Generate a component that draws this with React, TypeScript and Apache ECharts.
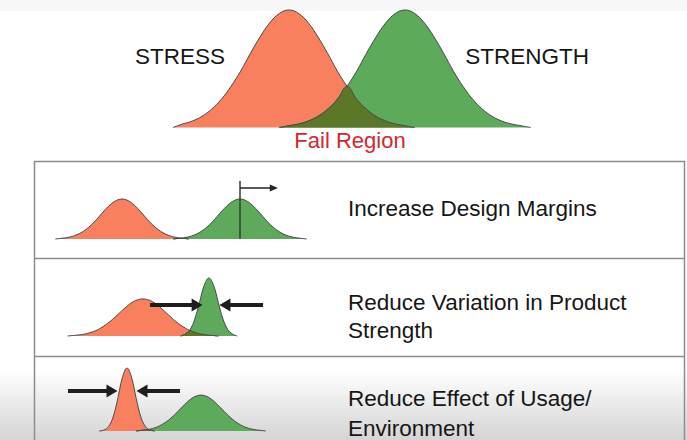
import React, { useEffect, useRef } from "react";
import * as echarts from "echarts";

// ---- Data (relative density heights) ----
// Top panel (STRESS vs STRENGTH)
const topStress = [null, 0, 3, 5.5, 9.5, 15.6, 24, 35, 48, 63, 77, 89, 97, 100, 97, 89, 77, 63, 48, 35, 24, 15.6, 9.5, 5.5, 3, 1.5, 0, null, null, null, null, null, null, null, null, null, null, null, null];
const topStrength = [null, null, null, null, null, null, null, null, null, null, null, null, 0, 1.5, 3, 5.5, 9.5, 15.6, 24, 35, 48, 63, 77, 89, 97, 100, 97, 89, 77, 63, 48, 35, 24, 15.6, 9.5, 5.5, 3, 1.5, 0];

// Row 1: Increase Design Margins
const row1Stress = [0, 1.5, 3, 5.5, 9.5, 15.6, 24, 35, 48, 63, 77, 89, 97, 100, 97, 89, 77, 63, 48, 35, 24, 15.6, 9.5, 5.5, 3, 1.5, 0, null, null, null, null, null, null, null, null, null, null, null, null, null, null, null, null, null, null, null, null, null, null, null];
const row1Strength = [null, null, null, null, null, null, null, null, null, null, null, null, null, null, null, null, null, null, null, null, null, null, null, 0, 1.5, 3, 5.5, 9.5, 15.6, 24, 35, 48, 63, 77, 89, 97, 100, 97, 89, 77, 63, 48, 35, 24, 15.6, 9.5, 5.5, 3, 1.5, 0];

// Row 2: Reduce Variation in Product Strength
const row2Stress = [0, 0.8, 1.5, 2.5, 4, 6.3, 9.3, 13.5, 18.8, 25, 32, 39.6, 47, 53.8, 59.3, 62.7, 64, 62.7, 59.3, 53.8, 47, 39.6, 32, 25, 18.8, 13.5, 9.3, 6.3, 4, 2.5, 1.5, 0.8, 0, null, null, null, null];
const row2Strength = [null, null, null, null, null, null, null, null, null, null, null, null, null, null, null, null, null, null, null, null, null, null, null, null, 0, 3.3, 11.1, 29.1, 57.8, 87.2, 100, 87.2, 57.8, 29.1, 11.1, 3.3, 0];

// Row 3: Reduce Effect of Usage/Environment
const row3Stress = [0, 1.5, 6.9, 22.2, 51.3, 84.6, 100, 84.6, 51.3, 22.2, 6.9, 1.5, 0, null, null, null, null, null, null, null, null, null, null, null, null, null, null, null, null, null, null, null, null, null, null, null, null];
const row3Strength = [null, null, null, null, null, null, null, null, 0, 0.9, 1.7, 3, 5, 8, 12.1, 17.4, 23.8, 31.1, 38.6, 45.8, 51.8, 55.6, 57, 55.6, 51.8, 45.8, 38.6, 31.1, 23.8, 17.4, 12.1, 8, 5, 3, 1.7, 0.9, 0];

// Annotation lines (data coordinates of each panel)
const row1MarginLine = [[36, 0], [36, 145]];
const row1Arrow = [[36, 127.5], [42.6, 127.5]];
const row2Arrows = [[[17.5, 53.4], [27.5, 53.4]], [[41.5, 53.4], [33.4, 53.4]]];
const row3Arrows = [[[-6.76, 63.5], [2.76, 63.5]], [[17.46, 63.5], [9.24, 63.5]]];

// Texts
const topLabels = ["STRESS", "STRENGTH", "Fail Region"];
const rowTexts = [["Increase Design Margins"], ["Reduce Variation in Product", "Strength"], ["Reduce Effect of Usage/", "Environment"]];

// ---- Styles / layout ----
const RED = "#F9805F";
const GREEN = "#5CAA5A";
const OVERLAP = "#5A7828";
const OUTLINE = "#4a4a4a";
const FONT = '"Liberation Sans", Arial, Helvetica, sans-serif';

const panels = [
  { left: 163.3, top: 10, width: 38 * 9.67, height: 117.5, xMin: 0, xMax: 38, yMax: 100, stress: topStress, strength: topStrength },
  { left: 55.3, top: 179, width: 49 * 5.13, height: 60, xMin: 0, xMax: 49, yMax: 150, stress: row1Stress, strength: row1Strength },
  { left: 67.6, top: 278, width: 44 * 4.71, height: 58, xMin: 0, xMax: 44, yMax: 100, stress: row2Stress, strength: row2Strength },
  { left: 62.25, top: 368, width: 44 * 4.625, height: 63, xMin: -8, xMax: 36, yMax: 100, stress: row3Stress, strength: row3Strength },
];

function toPairs(arr: (number | null)[]) {
  const out: number[][] = [];
  arr.forEach((v, i) => {
    if (v != null) out.push([i, v]);
  });
  return out;
}

function overlapOf(a: (number | null)[], b: (number | null)[]) {
  return a.map((v, i) => (v == null || b[i] == null ? null : Math.min(v, b[i] as number)));
}

function thickArrow(seg: number[][]) {
  return [
    { coord: seg[0], symbol: "none" },
    { coord: seg[1], symbol: "triangle", symbolSize: [13, 11] },
  ];
}

export default function App() {
  const ref = useRef<HTMLDivElement>(null);

  useEffect(() => {
    if (!ref.current) return;
    const chart = echarts.init(ref.current, undefined, { renderer: "svg" });

    const grids: any[] = [];
    const xAxes: any[] = [];
    const yAxes: any[] = [];
    const series: any[] = [];

    panels.forEach((p, k) => {
      grids.push({ left: p.left, top: p.top, width: p.width, height: p.height, containLabel: false });
      xAxes.push({ type: "value", gridIndex: k, min: p.xMin, max: p.xMax, show: false, splitLine: { show: false } });
      yAxes.push({ type: "value", gridIndex: k, min: 0, max: p.yMax, show: false, splitLine: { show: false } });
      const common = {
        type: "line",
        xAxisIndex: k,
        yAxisIndex: k,
        smooth: 0.4,
        symbol: "none",
        silent: true,
        clip: false,
        lineStyle: { color: OUTLINE, width: 1 },
      };
      series.push({ ...common, name: "stress" + k, z: 2, data: toPairs(p.stress), areaStyle: { color: RED, opacity: 1 } });
      series.push({ ...common, name: "strength" + k, z: 3, data: toPairs(p.strength), areaStyle: { color: GREEN, opacity: 1 } });
      const ov: any = {
        ...common,
        name: "overlap" + k,
        z: 4,
        data: toPairs(overlapOf(p.stress, p.strength)),
        areaStyle: { color: OVERLAP, opacity: 1 },
      };
      const markData: any[] = [];
      if (k === 1) {
        markData.push([
          { coord: row1MarginLine[0], symbol: "none", lineStyle: { width: 1.5, color: "#3a3a3a" } },
          { coord: row1MarginLine[1], symbol: "none" },
        ]);
        markData.push([
          { coord: row1Arrow[0], symbol: "none", lineStyle: { width: 1.5, color: "#222" } },
          { coord: row1Arrow[1], symbol: "triangle", symbolSize: [7, 8] },
        ]);
      }
      if (k === 2) row2Arrows.forEach((s) => markData.push(thickArrow(s)));
      if (k === 3) row3Arrows.forEach((s) => markData.push(thickArrow(s)));
      if (markData.length) {
        ov.markLine = {
          silent: true,
          animation: false,
          symbol: ["none", "triangle"],
          label: { show: false },
          emphasis: { disabled: true },
          lineStyle: { color: "#1e1e1e", width: 4, type: "solid" },
          itemStyle: { color: "#1e1e1e" },
          data: markData,
        };
      }
      series.push(ov);
    });

    const textStyle = (size: number, fill: string) => ({ font: `normal ${size}px ${FONT}`, fill });

    const graphics: any[] = [
      { type: "rect", z: 0, shape: { x: 0, y: 0, width: 687, height: 11 }, style: { fill: "#f7f7f7" }, silent: true },
      {
        type: "rect",
        z: 0,
        shape: { x: 0, y: 370, width: 687, height: 70 },
        style: {
          fill: new echarts.graphic.LinearGradient(0, 0, 0, 1, [
            { offset: 0, color: "rgba(205,205,205,0)" },
            { offset: 1, color: "rgba(205,205,205,0.85)" },
          ]),
        },
        silent: true,
      },
      { type: "rect", z: 1, shape: { x: 34.5, y: 161.5, width: 650, height: 320 }, style: { fill: "none", stroke: "#8d8d8d", lineWidth: 1.5 }, silent: true },
      { type: "line", z: 1, shape: { x1: 34.5, y1: 258.5, x2: 684.5, y2: 258.5 }, style: { stroke: "#8d8d8d", lineWidth: 1.5 }, silent: true },
      { type: "line", z: 1, shape: { x1: 34.5, y1: 356.5, x2: 684.5, y2: 356.5 }, style: { stroke: "#8d8d8d", lineWidth: 1.5 }, silent: true },
      { type: "text", z: 10, x: 180, y: 56, style: { ...textStyle(22.5, "#161616"), text: topLabels[0], align: "center", verticalAlign: "middle" } },
      { type: "text", z: 10, x: 527, y: 56, style: { ...textStyle(22.5, "#161616"), text: topLabels[1], align: "center", verticalAlign: "middle" } },
      { type: "text", z: 10, x: 350, y: 140, style: { ...textStyle(22, "#D0282E"), text: topLabels[2], align: "center", verticalAlign: "middle" } },
    ];
    const rowY = [[208], [302, 330], [398, 428]];
    rowTexts.forEach((lines, r) => {
      lines.forEach((t, j) => {
        graphics.push({
          type: "text",
          z: 10,
          x: 348,
          y: rowY[r][j],
          style: { ...textStyle(22.5, "#161616"), text: t, align: "left", verticalAlign: "middle" },
        });
      });
    });

    chart.setOption({
      animation: false,
      backgroundColor: "#ffffff",
      grid: grids,
      xAxis: xAxes,
      yAxis: yAxes,
      series,
      graphic: graphics,
    });

    return () => chart.dispose();
  }, []);

  return <div ref={ref} style={{ position: "fixed", left: 0, top: 0, width: 687, height: 440 }} />;
}
